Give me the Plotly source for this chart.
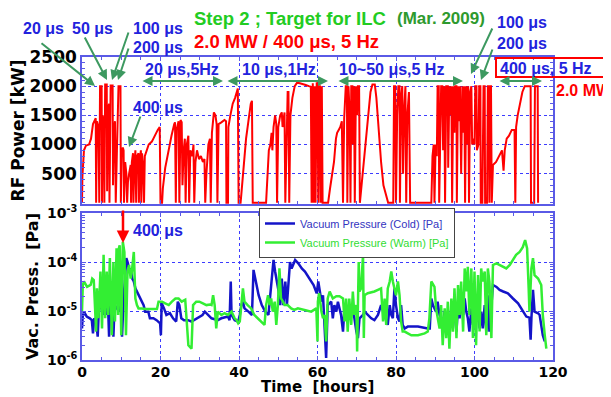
import plotly.graph_objects as go

# ---------------- data ----------------
t_rf = [0.0, 0.1, 0.5, 1.0, 1.8, 2.3, 2.8, 3.2, 3.5, 3.6, 3.8, 4.2, 4.4, 4.6, 5.0, 5.1, 5.3, 5.6, 5.7, 5.9,
        6.3, 6.4, 6.6, 6.9, 7.0, 7.3, 7.8, 7.9, 8.1, 8.4, 8.6, 8.9, 9.3, 9.8, 9.9, 10.1, 10.4, 10.6, 10.7, 11.0,
        11.3, 11.5, 11.7, 12.0, 12.4, 12.5, 12.7, 13.0, 13.1, 13.3, 13.6, 13.8, 14.0, 14.4, 14.5, 14.7, 15.0, 15.1, 15.3, 15.6,
        15.8, 16.0, 16.5, 17.0, 17.8, 18.5, 19.3, 19.8, 20.0,
        20.4, 20.6, 21.2, 22.0, 22.8, 23.5, 23.7, 23.9, 24.1, 24.6, 24.8, 25.1, 25.4, 25.6, 25.9, 26.2, 26.4, 26.7, 27.1, 27.3,
        27.6, 28.1, 28.4, 28.6, 28.9, 29.3, 29.8, 30.3, 30.8, 31.2, 31.4, 31.7, 32.2, 32.6, 32.8, 33.1, 33.6, 34.0, 34.3, 34.5,
        34.8, 35.5, 36.3, 36.7, 36.8, 37.2, 37.3, 37.8, 38.4, 39.0, 39.7, 39.9,
        40.4, 40.6, 41.2, 41.8, 42.4, 43.0, 43.3, 43.5, 46.9, 47.2, 47.6, 48.0, 48.3, 48.5, 48.8, 49.2, 49.5, 49.7, 50.0, 50.5,
        50.9, 51.1, 51.6, 51.8, 52.1, 52.4, 52.6, 52.8, 53.1, 53.6, 54.2, 54.8, 55.5, 56.2, 57.0, 57.8, 58.3, 58.5, 58.8, 59.0,
        59.3, 59.5, 59.8, 60.0,
        60.2, 60.4, 60.6, 60.8, 61.1, 61.3, 62.7, 63.2, 63.8, 64.2, 64.7, 65.0, 65.4, 65.8, 66.2, 66.5, 66.8, 67.2, 67.5, 67.6,
        67.9, 68.2, 68.4, 68.6, 68.9, 69.0, 69.3, 69.5, 69.8, 70.1, 70.3, 70.6, 70.8, 71.2, 72.0, 72.8, 73.5, 74.0, 74.6, 75.0,
        75.6, 76.2, 76.8, 77.4, 78.0, 79.3, 79.5, 79.8, 80.0,
        80.3, 80.6, 80.9, 81.0, 81.3, 81.6, 81.8, 82.1, 82.4, 82.6, 82.9, 83.3, 83.6, 89.0, 89.3, 89.6, 89.8, 90.1, 90.4, 90.6,
        90.9, 91.0, 91.3, 91.5, 91.8, 92.0, 92.3, 92.5, 92.8, 93.2, 93.3, 93.6, 93.9, 94.1, 94.3, 94.6, 94.9, 95.1, 95.4, 95.5,
        95.8, 96.1, 96.3, 96.6, 96.9, 97.2, 97.4, 97.6, 97.9, 98.2, 98.4, 98.6, 98.9, 99.2, 99.4, 99.7, 100.0, 100.2, 100.5, 100.6,
        101.0, 101.2, 101.5, 101.6,
        102.0, 102.3, 102.6, 102.7, 103.2, 103.4, 103.7, 103.8, 104.0, 104.2, 104.4, 104.7, 105.5, 106.3, 107.0, 107.4, 107.7, 108.2, 108.8, 109.5,
        110.2, 110.4, 110.6, 111.0, 111.6, 112.2, 112.8, 114.3, 114.4, 115.2, 115.4, 116.1, 116.2]
p_rf = [0, 450, 900, 980, 1000, 1100, 1350, 1420, 1450, 0, 1400, 1300, 0, 2000, 2000, 0, 1500, 1200, 0, 2030,
        2030, 200, 1600, 1700, 0, 2010, 2010, 300, 1200, 1400, 0, 900, 2000, 2000, 0, 800, 950, 900, 0, 700,
        500, 0, 350, 500, 650, 0, 700, 850, 0, 600, 900, 0, 800, 850, 0, 700, 900, 0, 850, 600,
        0, 800, 900, 1000, 1050, 1150, 1250, 1300, 0,
        0, 250, 600, 900, 1150, 1350, 1380, 0, 1250, 1400, 0, 1420, 1380, 300, 900, 1100, 0, 1000, 1150, 0,
        900, 800, 1000, 0, 700, 900, 750, 800, 700, 750, 0, 500, 1000, 1100, 0, 1200, 1550, 1500, 1350, 0,
        1350, 1380, 1420, 1400, 0, 0, 1300, 1500, 1700, 1800, 1960, 0,
        0, 150, 700, 1100, 1400, 1700, 1750, 0, 0, 500, 900, 1000, 1200, 900, 1300, 1500, 1350, 0, 1300, 1500,
        1550, 1300, 1550, 0, 1200, 1900, 1900, 0, 1500, 1800, 2000, 2060, 2050, 2040, 2020, 2000, 1990, 0, 2050, 0,
        2000, 0, 2050, 2050,
        0, 2000, 2000, 0, 2000, 0, 0, 250, 550, 700, 1100, 1200, 1250, 1300, 1400, 0, 1450, 2000, 2000, 0,
        2000, 1500, 0, 2000, 2000, 1000, 2000, 0, 2000, 1500, 2000, 2000, 0, 300, 900, 1500, 1900, 2030, 2030, 1800,
        1200, 700, 300, 150, 0, 0, 2000, 2000, 0,
        1500, 2000, 2000, 0, 1800, 2000, 500, 1600, 2000, 0, 1500, 1900, 0, 0, 800, 1000, 0, 1000, 800, 2000,
        2000, 0, 1200, 2000, 2000, 900, 2000, 0, 2000, 2000, 600, 2000, 1500, 2000, 0, 2000, 1200, 2000, 2000, 0,
        2000, 1400, 2000, 500, 2000, 1200, 2000, 0, 2000, 1000, 2000, 0, 1900, 2000, 1000, 1100, 1000, 2000, 2000, 900,
        1000, 2000, 2000, 0,
        0, 2000, 2000, 0, 0, 2000, 2000, 0, 2000, 2000, 0, 650, 700, 800, 900, 550, 900, 1100, 1150, 1250,
        1250, 0, 1300, 1500, 1700, 1900, 2000, 2000, 0, 0, 2000, 2000, 0]

t_cold = [0.0, 0.2, 0.5, 1.2, 2.0, 2.5, 2.8, 3.1, 3.6, 4.0, 4.3, 4.8, 5.3, 5.9, 6.3, 6.6, 6.9, 7.2, 7.6, 8.0,
          8.3, 8.8, 9.5, 9.9, 10.2, 10.6, 11.0, 11.3, 11.7, 12.0, 12.4, 12.8, 13.2, 13.6, 14.1, 14.8, 15.7, 16.1, 16.9, 17.3,
          18.2, 19.0, 19.9, 20.1, 20.3, 20.9, 21.5, 22.4, 23.2, 24.0, 24.4, 24.8, 25.3, 26.0, 27.0, 27.9, 28.5, 29.0, 30.0, 30.7,
          31.3, 32.1, 33.0, 34.6, 35.5, 37.2, 37.6, 37.9, 38.1, 38.9, 39.8, 40.2, 40.6, 41.0, 41.4, 42.4, 43.3, 43.7, 44.1, 45.0,
          45.8, 46.7, 47.5, 48.8, 49.2, 50.1, 50.5, 50.9, 51.3, 51.8, 52.2, 52.6, 53.0, 53.4, 54.3, 55.1, 56.0, 56.8, 57.7, 59.0,
          59.8, 60.2, 60.6, 61.0, 61.4, 61.8, 62.2, 62.6, 63.5, 63.9, 64.3, 64.8, 65.2, 66.0, 66.5, 66.9, 67.7, 68.1, 68.6, 69.0,
          69.4, 69.9, 70.3, 70.7, 71.6, 72.0, 72.8, 73.7, 74.5, 75.4, 76.2, 77.1, 77.9, 78.4, 78.8, 79.2, 79.6, 80.0, 80.5, 80.9,
          81.3, 81.7, 82.2, 83.0, 85.6, 88.1, 88.6, 89.0, 89.4, 90.2, 90.6, 91.1, 91.5, 91.9, 92.4, 93.2, 93.6, 94.1, 94.5, 94.9,
          95.4, 95.8, 96.2, 96.6, 97.1, 97.5, 97.9, 98.3, 98.7, 99.2, 99.6, 100.0, 100.9, 101.3, 101.7, 102.1, 102.6, 103.0, 103.4, 103.8,
          104.3, 104.7, 105.6, 106.4, 107.3, 108.5, 109.8, 111.1, 111.9, 112.8, 113.2, 114.0, 114.3, 114.5, 114.9, 115.3, 116.2, 116.6, 117.0, 117.4,
          117.9]
p_cold = [4.4e-6, 8.3e-6, 9.7e-6, 7.7e-6, 7.1e-6, 6.5e-6, 3.5e-6, 7.1e-6, 6.5e-6, 3.0e-6, 1.13e-5, 1.32e-5, 8.3e-6, 2.5e-5, 8.3e-6, 1.55e-5, 3.0e-6, 1.32e-5, 1.8e-5, 3.0e-6,
          1.32e-5, 1.13e-5, 9.7e-6, 2.1e-5, 3.0e-6, 1.8e-5, 6.4e-5, 1.2e-4, 9.4e-5, 6.4e-5, 7.4e-5, 4.6e-5, 4.0e-5, 2.9e-5, 2.4e-5, 1.8e-5, 1.32e-5, 9.7e-6, 9.7e-6, 7.1e-6,
          7.1e-6, 6.5e-6, 5.6e-6, 3.2e-6, 1.43e-5, 1.13e-5, 8.3e-6, 9.0e-6, 7.1e-6, 6.1e-6, 1.55e-5, 1.32e-5, 7.1e-6, 6.5e-6, 6.5e-6, 6.1e-6, 6.5e-6, 7.1e-6, 7.7e-6, 8.3e-6,
          9.7e-6, 8.3e-6, 7.1e-6, 6.5e-6, 7.1e-6, 7.7e-6, 6.5e-6, 4.0e-5, 8.3e-6, 6.5e-6, 6.1e-6, 8.3e-6, 1.32e-5, 1.55e-5, 1.13e-5, 9.7e-6, 8.3e-6, 6.9e-5, 4.6e-5, 2.1e-5,
          1.32e-5, 9.7e-6, 8.3e-6, 1.1e-4, 6.4e-5, 2.5e-5, 1.32e-5, 4.6e-5, 1.32e-5, 4.0e-5, 1.32e-5, 4.0e-5, 1.0e-4, 7.4e-5, 1.1e-4, 9.4e-5, 7.4e-5, 6.4e-5, 5.0e-5, 3.4e-5,
          2.3e-5, 4.0e-5, 2.5e-5, 1.55e-5, 2.1e-5, 6.1e-6, 1.1e-6, 1.32e-5, 1.55e-5, 7.1e-6, 1.32e-5, 9.7e-6, 1.55e-5, 8.3e-6, 3.8e-6, 1.32e-5, 1.13e-5, 7.1e-6, 1.32e-5, 9.7e-6,
          7.1e-6, 3.8e-6, 2.8e-6, 7.1e-6, 8.3e-6, 9.7e-6, 8.3e-6, 7.1e-6, 6.5e-6, 8.3e-6, 1.32e-5, 8.3e-6, 5.2e-6, 1.32e-5, 8.3e-6, 7.1e-6, 2.9e-5, 1.32e-5, 7.1e-6, 6.1e-6,
          1.32e-5, 5.2e-6, 4.4e-6, 4.8e-6, 4.8e-6, 4.4e-6, 4.4e-6, 1.8e-5, 1.32e-5, 9.7e-6, 1.55e-5, 8.3e-6, 7.1e-6, 5.2e-6, 9.7e-6, 8.3e-6, 4.4e-6, 1.13e-5, 7.1e-6, 9.7e-6,
          3.8e-6, 1.32e-5, 7.1e-6, 1.55e-5, 8.3e-6, 1.8e-5, 9.7e-6, 7.1e-6, 3.8e-6, 1.13e-5, 5.2e-6, 8.3e-6, 1.55e-5, 4.4e-6, 9.7e-6, 4.4e-6, 1.32e-5, 3.8e-6, 2.1e-5, 3.8e-6,
          1.32e-5, 3.4e-5, 3.1e-5, 2.7e-5, 2.5e-5, 2.3e-5, 1.8e-5, 1.43e-5, 1.13e-5, 9.0e-6, 7.7e-6, 7.3e-6, 2.6e-6, 7.1e-6, 2.7e-5, 9.7e-6, 9.0e-6, 8.3e-6, 5.2e-6, 3.2e-6,
          2.4e-6]

t_warm = [0.0, 0.2, 0.5, 1.3, 2.2, 2.6, 3.0, 3.4, 3.6, 3.8, 4.2, 4.7, 5.1, 5.5, 5.9, 6.3, 6.7, 7.1, 7.6, 8.0,
          8.4, 8.8, 9.2, 9.4, 9.6, 10.0, 10.4, 10.8, 11.2, 11.6, 12.0, 12.4, 12.7, 13.2, 13.6, 14.0, 14.4, 15.3, 16.1, 17.8,
          19.1, 19.5, 20.4, 21.2, 22.1, 22.9, 23.8, 24.6, 25.4, 26.3, 26.7, 27.1, 27.9, 28.3, 29.1, 29.9, 30.8, 31.7, 32.6, 33.0,
          33.4, 33.8, 34.2, 34.6, 35.5, 36.3, 37.2, 38.1, 38.9, 39.4, 39.8, 40.2, 41.0, 41.4, 42.2, 43.1, 43.9, 44.8, 46.5, 46.9,
          47.4, 47.8, 48.2, 48.6, 49.1, 49.5, 49.9, 50.3, 50.7, 51.2, 51.6, 52.4, 53.3, 54.1, 55.0, 56.7, 58.4, 59.7, 60.0, 60.1,
          60.4, 60.6, 61.0, 61.4, 61.8, 62.2, 62.6, 63.1, 63.9, 64.8, 65.6, 66.5, 66.9, 67.3, 67.7, 68.1, 68.6, 69.0, 69.4, 69.9,
          70.1, 70.5, 70.7, 71.1, 71.6, 71.8, 72.0, 72.8, 73.7, 74.5, 75.4, 76.2, 76.7, 77.1, 77.5, 77.9, 78.4, 78.8, 79.2, 79.6,
          80.0, 80.5, 80.9, 81.3, 81.7, 82.2, 83.0, 83.9, 85.6, 87.3, 88.1, 88.5, 89.0, 89.4, 89.8, 90.2, 90.6, 91.1, 91.5, 91.9,
          92.4, 92.8, 93.2, 93.6, 94.1, 94.5, 94.9, 95.4, 95.8, 96.2, 96.6, 97.1, 97.5, 97.9, 98.3, 98.7, 99.2, 99.6, 100.0, 100.4,
          100.9, 101.3, 101.7, 102.1, 102.6, 103.0, 103.4, 103.8, 104.3, 104.7, 105.6, 106.4, 107.3, 108.1, 109.0, 109.8, 110.6, 111.5, 112.3, 112.9,
          113.4, 113.8, 114.0, 114.5, 114.9, 115.3, 116.2, 117.0, 117.4, 117.9, 118.3]
p_warm = [9.7e-6, 3.4e-5, 4.0e-5, 3.1e-5, 3.4e-5, 4.6e-5, 4.3e-5, 8.3e-6, 3.8e-6, 2.9e-5, 7.1e-6, 6.4e-5, 4.4e-6, 1.4e-4, 7.1e-6, 6.4e-5, 8.3e-6, 1.2e-4, 3.2e-6, 1.0e-4,
          6.1e-6, 1.9e-4, 8.3e-6, 1.9e-4, 2.2e-4, 3.2e-6, 2.6e-4, 1.6e-4, 3.2e-6, 6.4e-5, 8.7e-5, 4.6e-5, 6.4e-5, 1.6e-4, 1.8e-5, 1.32e-5, 1.13e-5, 1.13e-5, 1.1e-5, 1.1e-5,
          1.1e-5, 1.55e-5, 1.55e-5, 1.43e-5, 1.32e-5, 1.55e-5, 1.8e-5, 1.8e-5, 1.55e-5, 1.7e-5, 6.1e-6, 2.0e-6, 1.7e-6, 1.32e-5, 1.55e-5, 1.55e-5, 1.43e-5, 1.32e-5, 1.36e-5, 1.32e-5,
          2.1e-5, 1.32e-5, 4.4e-6, 9.7e-6, 8.3e-6, 9.0e-6, 8.3e-6, 9.7e-6, 7.1e-6, 6.5e-6, 5.6e-6, 6.1e-6, 2.9e-5, 1.55e-5, 1.32e-5, 1.13e-5, 8.3e-6, 7.1e-6, 5.2e-6, 1.32e-5,
          2.1e-5, 1.32e-5, 1.8e-5, 9.7e-6, 1.55e-5, 5.2e-6, 1.32e-5, 7.4e-5, 1.8e-5, 1.55e-5, 1.32e-5, 1.32e-5, 1.13e-5, 1.05e-5, 1.13e-5, 1.05e-5, 9.7e-6, 1.13e-5, 2.4e-6, 1.55e-5,
          2.3e-5, 1.8e-5, 9.7e-6, 7.1e-6, 8.3e-6, 2.4e-6, 1.8e-5, 2.5e-5, 1.8e-5, 2.0e-5, 2.0e-5, 1.8e-5, 6.1e-6, 1.8e-5, 3.8e-6, 1.8e-5, 5.2e-6, 2.5e-5, 8.3e-6, 1.32e-5,
          1.5e-6, 1.0e-4, 2.5e-5, 2.9e-5, 1.4e-4, 2.8e-6, 2.1e-5, 2.3e-5, 2.4e-5, 2.5e-5, 2.7e-5, 2.9e-5, 6.1e-6, 1.8e-5, 5.2e-6, 2.9e-5, 4.0e-5, 6.4e-5, 4.0e-5, 2.9e-5,
          2.1e-5, 4.0e-5, 2.1e-5, 6.1e-6, 3.8e-6, 3.8e-6, 3.5e-6, 3.2e-6, 3.2e-6, 3.5e-6, 3.8e-6, 7.1e-6, 4.0e-5, 3.4e-5, 3.1e-5, 1.13e-5, 7.1e-6, 4.4e-6, 1.32e-5, 2.0e-6,
          1.13e-5, 2.8e-6, 1.55e-5, 1.7e-6, 1.8e-5, 3.8e-6, 2.9e-5, 2.8e-6, 3.4e-5, 8.3e-6, 4.0e-5, 3.8e-6, 7.4e-5, 2.5e-5, 8.0e-5, 8.3e-6, 7.4e-5, 2.8e-6, 6.4e-5, 2.0e-6,
          5.4e-5, 3.8e-6, 7.4e-5, 4.0e-5, 6.4e-5, 3.2e-6, 7.4e-5, 4.0e-5, 2.8e-6, 8.7e-5, 9.4e-5, 8.7e-5, 8.0e-5, 7.4e-5, 8.7e-5, 1.1e-4, 1.4e-4, 1.6e-4, 2.0e-4, 2.8e-4,
          1.9e-4, 2.9e-5, 9.7e-6, 7.4e-5, 1.2e-4, 5.4e-5, 4.6e-5, 3.4e-5, 8.3e-6, 3.2e-6, 1.7e-6]

rf_ticks = [500, 1000, 1500, 2000, 2500]
vac_ticks = [1e-6, 1e-5, 1e-4, 1e-3]
vac_ticktext = ["10<sup>-6</sup>", "10<sup>-5</sup>", "10<sup>-4</sup>", "10<sup>-3</sup>"]
time_ticks = [0, 20, 40, 60, 80, 100, 120]

# ---------------- styling ----------------
FONT = "Liberation Sans, Arial, sans-serif"
TFONT = "DejaVu Sans, Verdana, sans-serif"
BLUE_TXT = "#2222dd"
GREEN_ARR = "#3d9960"
RED = "#ff0000"
AXC = "#5a5ae6"
GRID = "#3c3cff"

# plot-area edges in screenshot pixels; the page body adds an 8 px offset
OFF = 8
L, R, T, B = 82, 553, 57, 360
W, H = R - L, B - T


def P(x, y):
    return dict(x=(x - L) / W, y=(B - y) / H, xref="paper", yref="paper")


fig = go.Figure()
fig.add_trace(go.Scatter(x=t_rf, y=p_rf, mode="lines", line=dict(color=RED, width=2),
                         xaxis="x", yaxis="y", showlegend=False))
fig.add_trace(go.Scatter(x=t_cold, y=p_cold, mode="lines", line=dict(color="#1414c8", width=2.5),
                         xaxis="x2", yaxis="y2",
                         name="<span style='color:#3434c0'>Vacuum Pressure (Cold) [Pa]</span>"))
fig.add_trace(go.Scatter(x=t_warm, y=p_warm, mode="lines", line=dict(color="#33ee33", width=2.5),
                         xaxis="x2", yaxis="y2",
                         name="<span style='color:#33dd33'>Vacuum Pressure (Warm) [Pa]</span>"))


def axis_common(tsize):
    return dict(showline=True, linecolor=AXC, linewidth=1.5, mirror="ticks", automargin=False,
                showgrid=True, gridcolor=GRID, griddash="dot", gridwidth=1,
                zeroline=False, ticks="inside", tickcolor=AXC, ticklen=4,
                tickfont=dict(family=TFONT, size=tsize, color="black", weight="bold"))


title_font = dict(family=TFONT, size=16, color="black", weight="bold")

fig.update_layout(
    width=611, height=397,
    margin=dict(l=L - OFF, r=611 - (R - OFF), t=T - OFF, b=397 - (B - OFF), autoexpand=False),
    paper_bgcolor="white", plot_bgcolor="white",
    font=dict(family=FONT),
    xaxis=dict(**axis_common(15), domain=[0, 1], range=[0, 120], tickvals=time_ticks,
               showticklabels=False, anchor="y",
               minor=dict(ticks="inside", dtick=5, ticklen=3, tickcolor=AXC)),
    yaxis=dict(**axis_common(17), domain=[(B - 204) / H, 1], range=[-20, 2500], tickvals=rf_ticks,
               anchor="x",
               minor=dict(ticks="inside", dtick=100, ticklen=3, tickcolor=AXC),
               title=dict(text="RF Power [kW]", standoff=4, font=dict(title_font, size=17))),
    xaxis2=dict(**axis_common(14), domain=[0, 1], range=[0, 120], tickvals=time_ticks, anchor="y2",
                ticklabelstandoff=-2,
                minor=dict(ticks="inside", dtick=5, ticklen=3, tickcolor=AXC)),
    yaxis2=dict(**axis_common(14), domain=[0, (B - 213) / H], type="log", range=[-6, -3],
                tickvals=vac_ticks, ticktext=vac_ticktext, anchor="x2",
                minor=dict(ticks="inside", dtick="D1", ticklen=3, tickcolor=AXC),
                title=dict(text="Vac. Press.  [Pa]", standoff=4, font=dict(title_font, size=16))),
    legend=dict(x=(259 - L) / W, y=(B - 208) / H, xanchor="left", yanchor="top",
                bgcolor="white", bordercolor="#444444", borderwidth=1,
                font=dict(family=FONT, size=11), tracegroupgap=0, itemwidth=30),
)

# rectangle around "400 us, 5 Hz"
fig.add_shape(type="rect", xref="paper", yref="paper",
              x0=(496 - L) / W, x1=(604 - L) / W, y0=(B - 77) / H, y1=(B - 58) / H,
              line=dict(color=RED, width=2))

ann = []


def text(xl, yc, s, color=BLUE_TXT, size=16, family=FONT, xanchor="left"):
    ann.append(dict(**P(xl, yc), text=s, xanchor=xanchor, yanchor="middle", showarrow=False,
                    font=dict(family=family, size=size, color=color, weight="bold")))


def arrow(tx, ty, hx, hy, color=GREEN_ARR, both=False, width=2):
    d = dict(**P(hx, hy), ax=tx - hx, ay=ty - hy, axref="pixel", ayref="pixel", text="",
             showarrow=True, arrowhead=2, arrowsize=1, arrowwidth=width, arrowcolor=color,
             standoff=0, startstandoff=0)
    if both:
        d["arrowside"] = "end+start"
        d["startarrowhead"] = 2
        d["startarrowsize"] = 1
    ann.append(d)


text(21, 28, "20 μs")
text(70, 28, "50 μs")
text(131, 28, "100 μs")
text(131, 48, "200 μs")
text(131, 107, "400 μs")
text(192, 18, "Step 2 ; Target for ILC", color="#22cc22", size=18.5)
text(395, 18, "(Mar. 2009)", color="#2e9a2e", size=17)
text(192, 42, "2.0 MW / 400 μs, 5 Hz", color=RED, size=18.5)
text(143, 69, "20 μs,5Hz")
text(240, 69, "10 μs,1Hz")
text(337, 69, "10~50 μs,5 Hz")
text(495, 23, "100 μs")
text(495, 43, "200 μs")
text(498, 68, "400 μs, 5 Hz")
text(554, 90, "2.0 MW", color=RED, size=16)
text(131, 230, "400 μs")
text(317, 387, "Time  [hours]", color="black", size=15, family=TFONT, xanchor="center")

arrow(40, 42, 95, 86)
arrow(84, 36, 107, 80)
arrow(129, 31, 112, 80)
arrow(129, 47, 118, 80)
arrow(141, 115, 129, 147)
arrow(493, 27, 471, 74)
arrow(493, 48, 481, 80)
arrow(141, 81, 223, 81, both=True)
arrow(226, 81, 328, 81, both=True)
arrow(337, 81, 463, 81, both=True)
arrow(498, 81, 542, 81, both=True)
arrow(123, 209, 123, 243, color=RED, width=2.5)

fig.update_layout(annotations=ann)

fig.write_html("out.html")
